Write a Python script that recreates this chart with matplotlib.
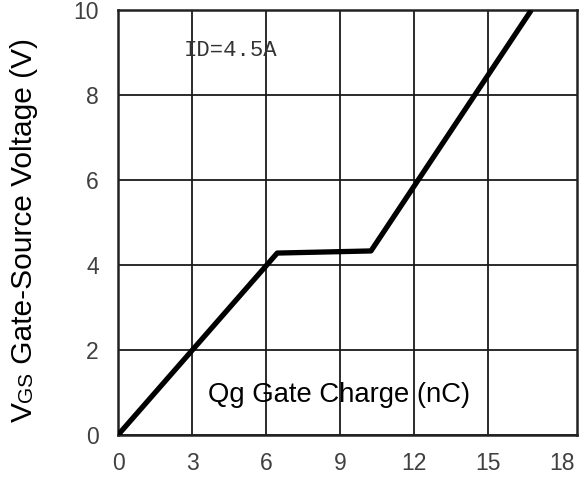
import matplotlib
matplotlib.use("Agg")
import matplotlib.pyplot as plt

# gate charge curve, ID = 4.5A
qg = [0, 6.45, 10.25, 16.75]
vgs = [0, 4.28, 4.33, 10]

x_ticks = [0, 3, 6, 9, 12, 15, 18]
y_ticks = [0, 2, 4, 6, 8, 10]
x_grid = [3, 6, 9, 12, 15]

plt.rcParams['font.family'] = ['Liberation Sans', 'DejaVu Sans']

fig = plt.figure(figsize=(5.79, 4.8), dpi=100)
ax = fig.add_axes([0.204, 0.094, 0.7925, 0.885])

ax.set_xlim(0, 18.6)
ax.set_ylim(0, 10)
ax.set_xticks(x_ticks)
ax.set_yticks(y_ticks)
ax.tick_params(length=0, labelsize=16.5, colors='#404040')
ax.tick_params(axis='x', pad=12)
ax.tick_params(axis='y', pad=14)

ax.grid(True, axis='y', color='#1a1a1a', linewidth=1.3)
ax.vlines(x_grid, 0, 10, color='#1a1a1a', linewidth=1.3)
for s in ax.spines.values():
    s.set_linewidth(1.8)
    s.set_color('#222222')

ax.plot(qg, vgs, color='black', linewidth=3.8, solid_capstyle='butt', zorder=5)

ax.text(4.57, 9.06, 'ID=4.5A', family='Liberation Mono', fontsize=16,
        color='#333333', ha='center', va='center')
ax.text(8.95, 0.93, 'Qg Gate Charge (nC)', fontsize=19.8, ha='center',
        va='center', color='black', zorder=6)

# y label: V with small GS on the same baseline
fig.canvas.draw()
r = fig.canvas.get_renderer()
x0, y0 = 32, 58
t1 = fig.text(x0 / 579, y0 / 480, 'V', fontsize=21.5, rotation=90,
              rotation_mode='anchor', ha='left', va='baseline')
h1 = t1.get_window_extent(r).height
t2 = fig.text(x0 / 579, (y0 + h1) / 480, 'GS', fontsize=15, rotation=90,
              rotation_mode='anchor', ha='left', va='baseline')
h2 = t2.get_window_extent(r).height
fig.text(x0 / 579, (y0 + h1 + h2) / 480, ' Gate-Source Voltage (V)', fontsize=21.5,
         rotation=90, rotation_mode='anchor', ha='left', va='baseline')

fig.savefig('out.png', dpi=100)
